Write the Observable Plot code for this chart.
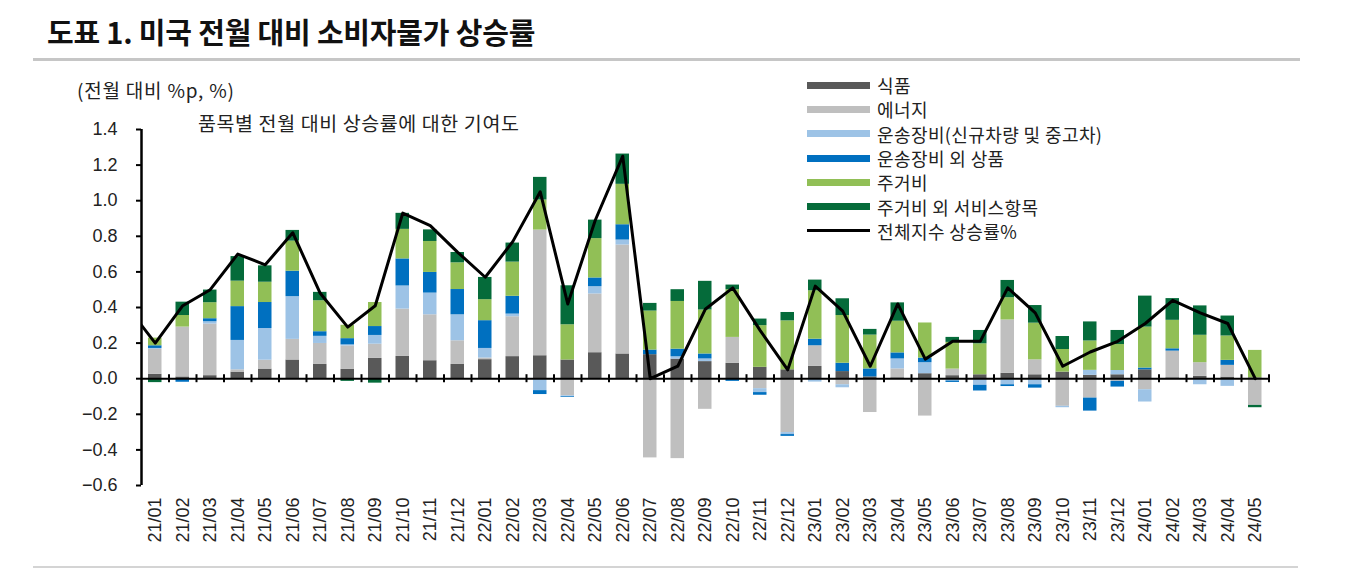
<!DOCTYPE html>
<html><head><meta charset="utf-8">
<script src="https://cdn.jsdelivr.net/npm/d3@7"></script>
<script src="https://cdn.jsdelivr.net/npm/@observablehq/plot@0.6"></script>
<style>
body{margin:0;background:#fff;}
#wrap{position:relative;width:1350px;height:572px;overflow:hidden;font-family:"Noto Sans CJK KR","Noto Sans",sans-serif;color:#111;}
#title{position:absolute;left:47px;top:12px;font-size:29px;font-weight:700;line-height:38px;white-space:nowrap;letter-spacing:-0.2px;}
#rule1{position:absolute;left:33px;top:58px;width:1267px;height:3px;background:#c6c6c6;}
#rule2{position:absolute;left:33px;top:566px;width:1265px;height:2px;background:#d4d4d4;}
#chart{position:absolute;left:0;top:66px;}
#ylab{position:absolute;left:77px;top:78px;font-size:19px;line-height:24px;letter-spacing:0.8px;white-space:nowrap;color:#222;}
#sub{position:absolute;left:198px;top:111px;font-size:19.5px;line-height:24px;letter-spacing:0.6px;white-space:nowrap;color:#222;}
#legend{position:absolute;left:807px;top:73px;}
.li{height:24.3px;display:flex;align-items:center;font-size:18px;letter-spacing:0.4px;white-space:nowrap;color:#222;}
.sw{width:63px;height:7px;margin-right:7px;}
.sl{width:63px;height:3px;margin-right:7px;background:#000;}
</style></head>
<body>
<div id="wrap">
  <div id="title">도표 1. 미국 전월 대비 소비자물가 상승률</div>
  <div id="rule1"></div>
  <div id="ylab">(전월 대비 %p, %)</div>
  <div id="sub">품목별 전월 대비 상승률에 대한 기여도</div>
  <div id="chart"></div>
  <div id="legend"></div>
  <div id="rule2"></div>
</div>
<script>
const labels = ["21/01","21/02","21/03","21/04","21/05","21/06","21/07","21/08","21/09","21/10","21/11","21/12",
  "22/01","22/02","22/03","22/04","22/05","22/06","22/07","22/08","22/09","22/10","22/11","22/12",
  "23/01","23/02","23/03","23/04","23/05","23/06","23/07","23/08","23/09","23/10","23/11","23/12",
  "24/01","24/02","24/03","24/04","24/05"];

const seriesNames = ["식품","에너지","운송장비(신규차량 및 중고차)","운송장비 외 상품","주거비","주거비 외 서비스항목"];
const seriesColors = ["#595959","#bfbfbf","#9dc3e6","#0070c0","#91bf56","#056b3a"];
const lineName = "전체지수 상승률%";

const food = [0.025,0.01,0.017,0.037,0.054,0.105,0.08,0.052,0.114,0.125,0.101,0.08,
  0.107,0.124,0.129,0.105,0.146,0.139,0.135,0.11,0.096,0.086,0.064,0.05,
  0.069,0.04,0.01,0.005,0.028,0.017,0.022,0.03,0.022,0.037,0.019,0.022,
  0.05,0.005,0.013,0.009,0.005];
const energy = [0.14,0.28,0.29,0.013,0.05,0.116,0.118,0.132,0.08,0.266,0.258,0.133,
  0.009,0.224,0.706,-0.096,0.33,0.612,-0.445,-0.449,-0.172,0.146,-0.056,-0.303,
  0.116,-0.034,-0.19,0.05,-0.21,0.037,0,0.3,0.084,-0.155,-0.109,-0.015,
  -0.062,0.15,0.077,0.066,-0.15];
const vehicles = [0.005,0,0.013,0.165,0.178,0.24,0.04,0.006,0.049,0.13,0.122,0.146,
  0.054,0.015,-0.067,-0.005,0.041,0.028,0,0.013,0.015,0,-0.022,-0.011,
  -0.019,-0.017,0,0.056,0.062,-0.013,-0.037,-0.034,-0.034,-0.008,0.028,0.024,
  -0.069,0,-0.034,-0.043,0];
const goods = [0.015,-0.02,0.017,0.19,0.146,0.143,0.026,0.035,0.05,0.152,0.116,0.142,
  0.156,0.1,-0.022,-0.004,0.049,0.086,0.026,0.043,0.028,-0.015,-0.015,-0.01,
  0.037,0.047,0.045,0.034,0.026,-0.008,-0.032,-0.01,-0.019,0,-0.073,-0.032,
  0.01,0.013,0,0.028,0];
const shelter = [0.043,0.065,0.09,0.143,0.114,0.169,0.174,0.075,0.135,0.166,0.174,0.15,
  0.118,0.192,0.169,0.198,0.221,0.227,0.219,0.268,0.247,0.268,0.234,0.275,
  0.272,0.268,0.19,0.178,0.197,0.15,0.174,0.125,0.206,0.127,0.165,0.146,
  0.23,0.16,0.154,0.137,0.154];
const services = [-0.022,0.075,0.071,0.138,0.092,0.06,0.047,-0.015,-0.025,0.09,0.065,0.058,
  0.125,0.107,0.127,0.219,0.104,0.17,0.043,0.066,0.161,0.026,0.037,0.047,
  0.06,0.094,0.032,0.103,0,0.028,0.075,0.097,0.099,0.073,0.107,0.079,
  0.174,0.122,0.165,0.112,-0.013];

// headline line, first value is 20/12 (clipped at the axis)
const lineLabels = ["20/12", ...labels];
const total = [0.4,0.2,0.41,0.5,0.7,0.64,0.82,0.48,0.29,0.41,0.93,0.86,0.71,
  0.57,0.77,1.05,0.42,0.89,1.25,0.0,0.07,0.39,0.51,0.27,0.05,
  0.52,0.38,0.07,0.42,0.11,0.21,0.21,0.51,0.37,0.07,0.15,0.21,
  0.31,0.44,0.37,0.31,0.0];

const yTicks = [-0.6,-0.4,-0.2,0,0.2,0.4,0.6,0.8,1.0,1.2,1.4];

const seriesValues = [food, energy, vehicles, goods, shelter, services];
const rows = seriesValues.flatMap((vals, s) => vals.map((v, k) => ({k, v, name: seriesNames[s]})));
const lineRows = total.map((v, i) => ({pos: i - 0.5, v, label: lineLabels[i]}));

const plot = Plot.plot({
  width: 1350, height: 496,
  marginLeft: 141, marginRight: 81.5, marginTop: 63, marginBottom: 77,
  x: {domain: [0, labels.length], axis: null},
  y: {domain: [-0.6, 1.4], axis: null},
  color: {domain: seriesNames, range: seriesColors},
  style: {fontFamily: "'Liberation Sans', Arial, sans-serif", fontSize: "18px", color: "#222", background: "transparent"},
  marks: [
    Plot.rectY(rows, {x: "k", interval: 1, y: "v", fill: "name", insetLeft: 7, insetRight: 7}),
    Plot.ruleY([0], {stroke: "#000", strokeWidth: 2}),
    Plot.ruleX(d3.range(1, labels.length + 1), {y1: 0, y2: 0, insetTop: -4, insetBottom: -4, stroke: "#000", strokeWidth: 2}),
    Plot.ruleX([0], {stroke: "#000", strokeWidth: 2.5}),
    Plot.axisY({ticks: yTicks, tickSize: 5, tickPadding: 19, tickFormat: d3.format(".1f"), stroke: "#000", strokeWidth: 2, fontSize: 18, label: null}),
    Plot.axisX({ticks: labels.map((_, k) => k + 0.5), tickFormat: d => labels[Math.floor(d)], tickRotate: -90, tickSize: 0, tickPadding: 12, fontSize: 18, label: null}),
    Plot.line(lineRows, {x: "pos", y: "v", stroke: "#000", strokeWidth: 3, clip: true})
  ]
});
document.getElementById("chart").appendChild(plot);

const legend = document.getElementById("legend");
seriesNames.forEach((n, i) => {
  const row = document.createElement("div"); row.className = "li";
  const sw = document.createElement("div"); sw.className = "sw"; sw.style.background = seriesColors[i];
  const t = document.createElement("span"); t.textContent = n;
  row.append(sw, t); legend.appendChild(row);
});
{
  const row = document.createElement("div"); row.className = "li";
  const sw = document.createElement("div"); sw.className = "sl";
  const t = document.createElement("span"); t.textContent = lineName;
  row.append(sw, t); legend.appendChild(row);
}
</script>
</body></html>
